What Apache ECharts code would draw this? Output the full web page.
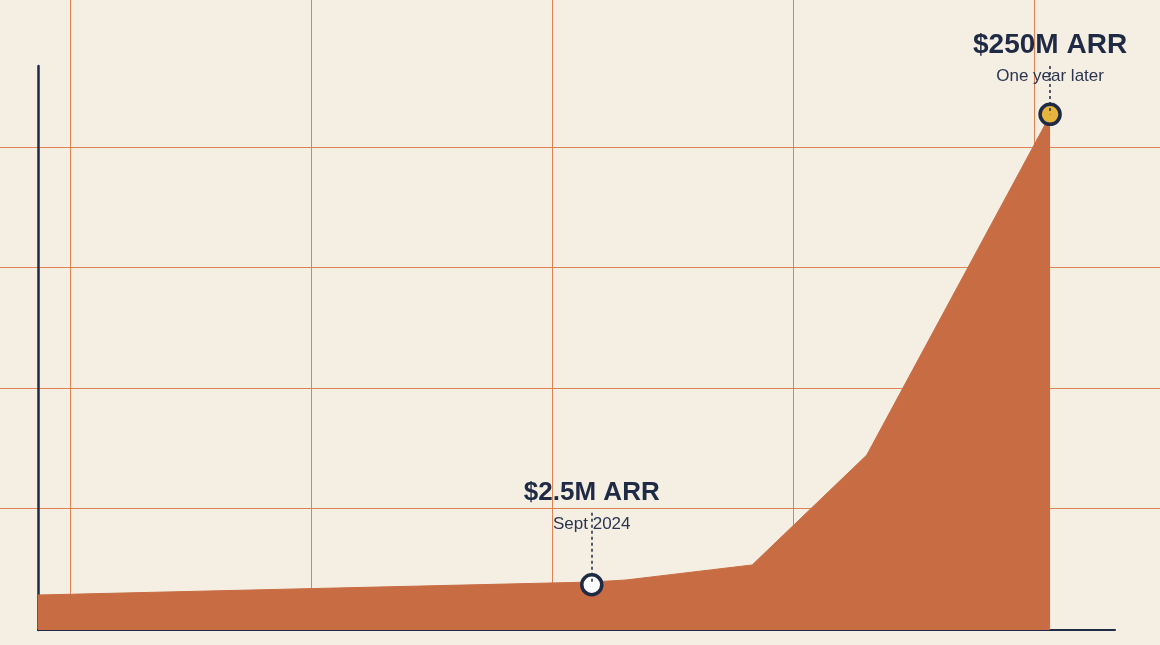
<!DOCTYPE html>
<html>
<head>
<meta charset="utf-8">
<title>ARR growth</title>
<script src="https://cdn.jsdelivr.net/npm/echarts@6/dist/echarts.min.js"></script>
<style>
  html, body { margin: 0; padding: 0; background: #f5eee3; }
  #chart { width: 1160px; height: 645px; }
</style>
</head>
<body>
<div id="chart"></div>
<script>
// months since start of the curve, and ARR height ($M, illustrative scale)
const months = [0, 14.5, 15.4, 18.7, 21.7, 26.5];
const arrValues = [17, 23.3, 24.3, 31.6, 85, 250];

// milestones
const milestoneMonths = [14.5, 26.5];
const milestoneValues = [22, 250.5];
const milestoneTitles = ["$2.5M ARR", "$250M ARR"];
const milestoneNotes = ["Sept 2024", "One year later"];
const guideStart = [57, 274]; // where the dashed guide begins above each marker

const NAVY = "#1f2a44";
const RUST = "#c86c43";
const GRID = "#df8252";

const chart = echarts.init(document.getElementById("chart"));

const milestoneData = milestoneMonths.map((m, i) => ({
  value: [m, milestoneValues[i]],
  itemStyle: { color: i === 0 ? "#ffffff" : "#e6b33d" },
  label: {
    distance: i === 0 ? 36 : 13,
    rich: {
      t: { fontSize: i === 0 ? 26 : 28, fontWeight: "bold", color: NAVY, lineHeight: 36, fontFamily: "Liberation Sans" },
      s: { fontSize: 17, color: "#2b3550", lineHeight: 26, fontFamily: "Liberation Sans" }
    }
  }
}));

const guides = milestoneMonths.map((m, i) => [
  { coord: [m, guideStart[i]] },
  { coord: [m, milestoneValues[i]] }
]);

const option = {
  backgroundColor: "#f5eee3",
  animation: false,
  grid: [
    { left: 70, right: 126, top: 0, bottom: 15 },      // vertical guide lines
    { left: 0, right: 0, top: 147, bottom: 136.5 },    // horizontal guide lines
    { left: 38, right: 45, top: 66, bottom: 15 }       // main plot
  ],
  xAxis: [
    {
      gridIndex: 0, type: "value", min: 0, max: 964, interval: 241,
      axisLine: { show: false }, axisTick: { show: false }, axisLabel: { show: false },
      splitLine: { show: true, lineStyle: { color: GRID, width: 1 } }
    },
    { gridIndex: 1, type: "value", show: false, min: 0, max: 1 },
    {
      gridIndex: 2, type: "value", min: 0, max: 28.2,
      axisLine: { show: true, lineStyle: { color: NAVY, width: 2 } },
      axisTick: { show: false }, axisLabel: { show: false }, splitLine: { show: false }
    }
  ],
  yAxis: [
    { gridIndex: 0, type: "value", show: false, min: 0, max: 1 },
    {
      gridIndex: 1, type: "value", min: 0, max: 361.5, interval: 120.5,
      axisLine: { show: false }, axisTick: { show: false }, axisLabel: { show: false },
      splitLine: { show: true, lineStyle: { color: GRID, width: 1 } }
    },
    {
      gridIndex: 2, type: "value", min: 0, max: 274,
      axisLine: { show: true, lineStyle: { color: NAVY, width: 2.5 } },
      axisTick: { show: false }, axisLabel: { show: false }, splitLine: { show: false }
    }
  ],
  series: [
    {
      name: "ARR",
      type: "line",
      xAxisIndex: 2,
      yAxisIndex: 2,
      data: months.map((m, i) => [m, arrValues[i]]),
      showSymbol: false,
      lineStyle: { color: RUST, width: 1 },
      areaStyle: { color: RUST, opacity: 1 },
      z: 3
    },
    {
      name: "Milestones",
      type: "scatter",
      xAxisIndex: 2,
      yAxisIndex: 2,
      symbolSize: 20,
      itemStyle: { borderColor: NAVY, borderWidth: 3.5, opacity: 1 },
      data: milestoneData,
      label: {
        show: true,
        position: "top",
        formatter: p => `{t|${milestoneTitles[p.dataIndex]}}\n{s|${milestoneNotes[p.dataIndex]}}`
      },
      markLine: {
        silent: true,
        symbol: "none",
        label: { show: false },
        lineStyle: { color: NAVY, width: 1.5, type: [3, 3], opacity: 1 },
        data: guides,
        z: 6
      },
      z: 5
    }
  ]
};

chart.setOption(option);
window.addEventListener("resize", () => chart.resize());
</script>
</body>
</html>
